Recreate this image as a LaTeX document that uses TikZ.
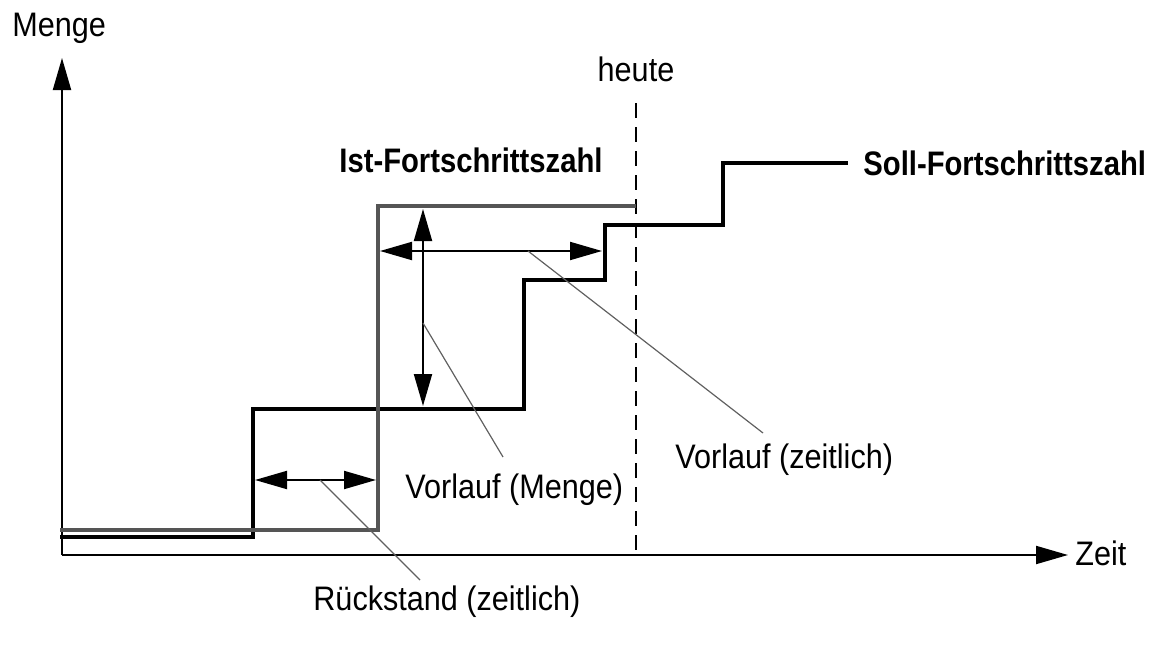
\documentclass[tikz,border=0pt]{standalone}
\usepackage{fontspec}
\setmainfont{Liberation Sans}[FakeStretch=0.9,BoldFeatures={FakeStretch=0.86}]
\usetikzlibrary{arrows.meta}
\definecolor{istgray}{HTML}{555555}
\definecolor{leadgray}{HTML}{606060}

\begin{document}
\begin{tikzpicture}[x=0.5pt,y=-0.5pt]
\tikzstyle{every node}=[inner sep=0pt, font=\fontsize{17}{20}\selectfont]
\tikzstyle{axis}=[line width=1pt, -{Triangle[length=16pt,width=9pt]}]
\tikzstyle{dim}=[line width=1pt, {Triangle[length=16pt,width=9pt]}-{Triangle[length=16pt,width=9pt]}]
\tikzstyle{soll}=[line width=2.4pt, black]
\tikzstyle{ist}=[line width=2.4pt, istgray]
\tikzstyle{leader}=[line width=0.6pt, leadgray]
\useasboundingbox (0,0) rectangle (1153,653);
% axes
\coordinate (o) at (62,555);
\coordinate (ytip) at (62,58);
\coordinate (xtip) at (1068,555);
\draw[axis] (o) -- (ytip);
\draw[axis] (o) -- (xtip);
\draw (12,37) node (menge) [anchor=base west] {Menge};
\draw (1075,565) node (zeit) [anchor=base west] {Zeit};
% heute
\draw (636,82) node (heute) [anchor=base] {heute};
\coordinate (h1) at (636,103);
\coordinate (h2) at (636,555);
\draw[line width=1.1pt, dash pattern=on 7.5pt off 4.5pt] (h1) -- (h2);
% Soll and Ist
\draw[soll] (60,537) -- (253,537) -- (253,409) -- (524,409) -- (524,280)
  -- (605,280) -- (605,225) -- (723,225) -- (723,163) -- (848,163);
\draw[ist] (60,530) -- (378,530) -- (378,206) -- (636,206);
\draw (339,172) node (ist) [anchor=base west] {\bfseries Ist-Fortschrittszahl};
\draw (863,175) node (soll) [anchor=base west] {\bfseries Soll-Fortschrittszahl};
% dimensions
\coordinate (r1) at (255,480);
\coordinate (r2) at (376,480);
\coordinate (m1) at (423,209);
\coordinate (m2) at (423,406);
\coordinate (z1) at (380,251);
\coordinate (z2) at (602,251);
\draw[dim] (r1) -- (r2);
\draw[dim] (m1) -- (m2);
\draw[dim] (z1) -- (z2);
% labels
\draw (313,610) node (rueck) [anchor=base west] {Rückstand (zeitlich)};
\draw (405,498) node (vmenge) [anchor=base west] {Vorlauf (Menge)};
\draw (675,468) node (vzeit) [anchor=base west] {Vorlauf (zeitlich)};
\draw[leader] (320,480) -- (420,580);
\draw[leader] (423,323) -- (503,457);
\draw[leader] (528,251) -- (763,433);
\end{tikzpicture}
\end{document}
